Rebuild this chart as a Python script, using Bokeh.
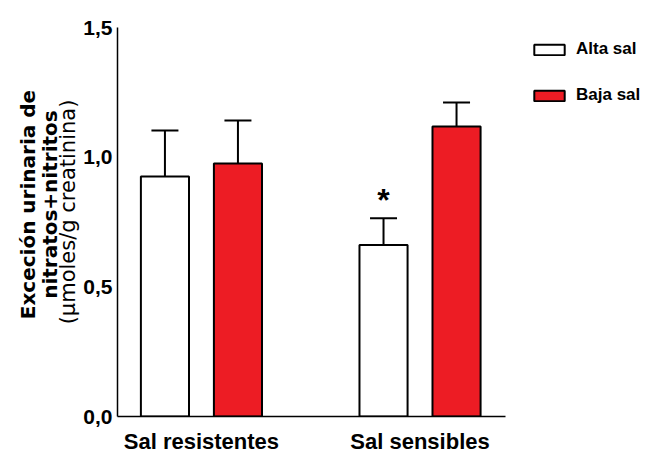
from bokeh.plotting import figure
from bokeh.models import (ColumnDataSource, Whisker, TeeHead, Legend, LegendItem,
                          FixedTicker, CustomJSTickFormatter, Range1d, LinearAxis)
from bokeh.core.properties import value
from bokeh.embed import file_html
from bokeh.resources import INLINE

# ---- data ----
groups = ["Sal resistentes", "Sal sensibles"]
series = ["Alta sal", "Baja sal"]
alta = [0.925, 0.661]
alta_err = [0.178, 0.103]
baja = [0.976, 1.118]
baja_err = [0.165, 0.093]
significant_alta = [False, True]
y_ticks = [0.0, 0.5, 1.0, 1.5]
ytitle_lines = ["Exceción urinaria de", "nitratos+nitritos", "(\u00b5moles/g creatinina)"]

# ---- layout constants ----
group_pos = [i + 1 for i in range(len(groups))]
dodge = 0.167
bar_w = 0.22
RED = "#ED1C24"
X0, XA = 0.616, 2.391          # axis extent
AXIS_PX = 388                   # axis length in px
FW, FH = 527, 389               # frame size (frame extends under legend)
px_x = (XA - X0) / AXIS_PX
X1 = X0 + FW * px_x
NB = "\u00a0"

p = figure(frame_width=FW, frame_height=FH, output_backend="svg", toolbar_location=None,
           x_range=Range1d(X0, X1), y_range=Range1d(0, 1.5),
           min_border_left=117, min_border_right=8, min_border_top=27,
           min_border_bottom=41)
p.outline_line_color = None
p.grid.visible = False
p.background_fill_color = "white"

def src(vals, errs, sign):
    xs = [g + sign * dodge for g in group_pos]
    return ColumnDataSource(dict(x=xs, top=vals, upper=[v + e for v, e in zip(vals, errs)]))

s_alta = src(alta, alta_err, -1)
s_baja = src(baja, baja_err, +1)

for s in (s_alta, s_baja):
    w = Whisker(base="x", lower="top", upper="upper", source=s, dimension="height",
                line_color="black", line_width=2,
                upper_head=TeeHead(size=27, line_color="black", line_width=2),
                lower_head=None, level="underlay")
    p.add_layout(w)

r_alta = p.vbar(x="x", top="top", width=bar_w, source=s_alta, fill_color="white",
                line_color="black", line_width=2)
r_baja = p.vbar(x="x", top="top", width=bar_w, source=s_baja, fill_color=RED,
                line_color="black", line_width=2)

# significance asterisk
ast_x = [x for x, f in zip(s_alta.data["x"], significant_alta) if f]
ast_y = [u + 0.07 for u, f in zip(s_alta.data["upper"], significant_alta) if f]
p.text(x=ast_x, y=ast_y, text=["*"] * len(ast_x), text_align="center",
       text_baseline="alphabetic", text_font=value("Liberation Sans"),
       text_font_style="bold", text_font_size="32px", text_color="black")

# axes
for ax in (p.xaxis[0], p.yaxis[0]):
    ax.axis_line_color = "black"
    ax.axis_line_width = 1.5
    ax.major_tick_out = 0
    ax.major_tick_in = 0
    ax.minor_tick_out = 0
    ax.minor_tick_in = 0
    ax.major_label_text_font = "Liberation Sans"
    ax.major_label_text_font_style = "bold"
    ax.major_label_text_color = "black"

p.yaxis.ticker = FixedTicker(ticks=y_ticks)
p.yaxis.formatter = CustomJSTickFormatter(code="return tick.toFixed(1).replace('.', ',');")
p.yaxis.major_label_text_font_size = "21px"
p.yaxis.major_label_standoff = 5
p.yaxis.axis_label = NB * 3 + ytitle_lines[2]
p.yaxis.axis_label_text_font = "DejaVu Sans"
p.yaxis.axis_label_text_font_style = "normal"
p.yaxis.axis_label_text_font_size = "21px"
p.yaxis.axis_label_text_color = "black"
p.yaxis.axis_label_standoff = 0

for line, so in ((ytitle_lines[1], -8), (ytitle_lines[0], -5)):
    ax = LinearAxis(axis_label=NB * 5 + line, ticker=FixedTicker(ticks=[]), axis_line_color=None,
                    major_tick_out=0, major_tick_in=0, minor_tick_out=0, minor_tick_in=0,
                    major_label_standoff=0, axis_label_standoff=so,
                    axis_label_text_font="DejaVu Sans", axis_label_text_font_style="bold",
                    axis_label_text_font_size="20px", axis_label_text_color="black")
    p.add_layout(ax, "left")

p.xaxis.ticker = FixedTicker(ticks=group_pos)
p.xaxis.bounds = (X0, XA)
p.xaxis.major_label_overrides = {g: n for g, n in zip(group_pos, groups)}
p.xaxis.major_label_text_font_size = "22px"
p.xaxis.major_label_standoff = 12

legend = Legend(items=[LegendItem(label=series[0], renderers=[r_alta]),
                       LegendItem(label=series[1], renderers=[r_baja])],
                location=(413, 311), margin=0, padding=0,
                glyph_width=38, glyph_height=13, label_standoff=8, spacing=26,
                label_text_font="Liberation Sans", label_text_font_style="bold",
                label_text_font_size="17px", label_text_color="black",
                border_line_color=None, background_fill_alpha=0)
p.add_layout(legend, "center")

open("out.html", "w").write(file_html(p, INLINE))
